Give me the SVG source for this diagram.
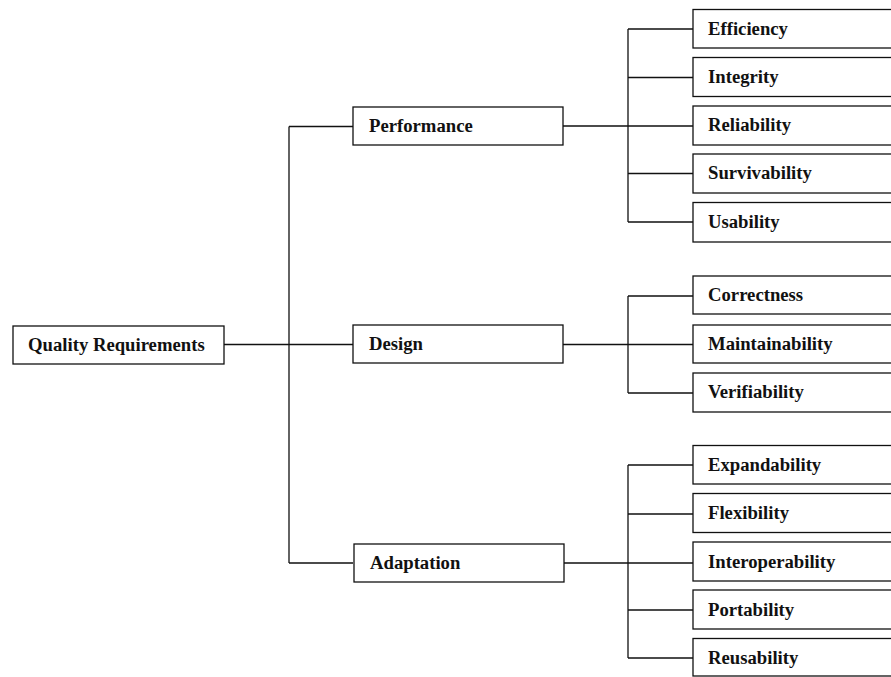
<svg xmlns="http://www.w3.org/2000/svg" width="891" height="677" viewBox="0 0 891 677">
<style>
.box{fill:#fff;stroke:#111;stroke-width:1.3}
.t{font-family:"Liberation Serif","DejaVu Serif",serif;font-size:18.7px;font-weight:bold;fill:#111}
.c{fill:none;stroke:#111;stroke-width:1.3}
</style>
<rect width="891" height="677" fill="#fff"/>
<g id="connectors" class="c">
<path d="M224 344.5H289M289 126.5V563M289 126.5H353M289 344.5H353M289 563H353"/>
<path d="M563 126H693M628 29V222M628 29H693M628 77.5H693M628 173.5H693M628 222H693"/>
<path d="M563 344.5H693M628 296V393M628 296H693M628 393H693"/>
<path d="M563 563H693M628 465V658M628 465H693M628 514H693M628 610H693M628 658H693"/>
</g>
<g id="quality"><rect class="box" x="13" y="326" width="211" height="38"/><text class="t" x="28" y="351">Quality Requirements</text></g>
<g id="performance"><rect class="box" x="353" y="107" width="210" height="38"/><text class="t" x="369" y="132">Performance</text></g>
<g id="design"><rect class="box" x="353" y="325" width="210" height="38"/><text class="t" x="369" y="350">Design</text></g>
<g id="adaptation"><rect class="box" x="354" y="544" width="210" height="38"/><text class="t" x="370" y="569">Adaptation</text></g>
<g id="efficiency"><rect class="box" x="693" y="9.5" width="210" height="38.5"/><text class="t" x="708" y="35">Efficiency</text></g>
<g id="integrity"><rect class="box" x="693" y="57.5" width="210" height="39"/><text class="t" x="708" y="83">Integrity</text></g>
<g id="reliability"><rect class="box" x="693" y="106" width="210" height="39"/><text class="t" x="708" y="131">Reliability</text></g>
<g id="survivability"><rect class="box" x="693" y="154" width="210" height="39"/><text class="t" x="708" y="179">Survivability</text></g>
<g id="usability"><rect class="box" x="693" y="202.5" width="210" height="39.5"/><text class="t" x="708" y="228">Usability</text></g>
<g id="correctness"><rect class="box" x="693" y="276" width="210" height="38"/><text class="t" x="708" y="301">Correctness</text></g>
<g id="maintainability"><rect class="box" x="693" y="325" width="210" height="38"/><text class="t" x="708" y="350">Maintainability</text></g>
<g id="verifiability"><rect class="box" x="693" y="373" width="210" height="39"/><text class="t" x="708" y="398">Verifiability</text></g>
<g id="expandability"><rect class="box" x="693" y="445.5" width="210" height="38.5"/><text class="t" x="708" y="471">Expandability</text></g>
<g id="flexibility"><rect class="box" x="693" y="493.5" width="210" height="39"/><text class="t" x="708" y="519">Flexibility</text></g>
<g id="interoperability"><rect class="box" x="693" y="542" width="210" height="39"/><text class="t" x="708" y="568">Interoperability</text></g>
<g id="portability"><rect class="box" x="693" y="590" width="210" height="39"/><text class="t" x="708" y="616">Portability</text></g>
<g id="reusability"><rect class="box" x="693" y="638.5" width="210" height="37.5"/><text class="t" x="708" y="664">Reusability</text></g>
</svg>
